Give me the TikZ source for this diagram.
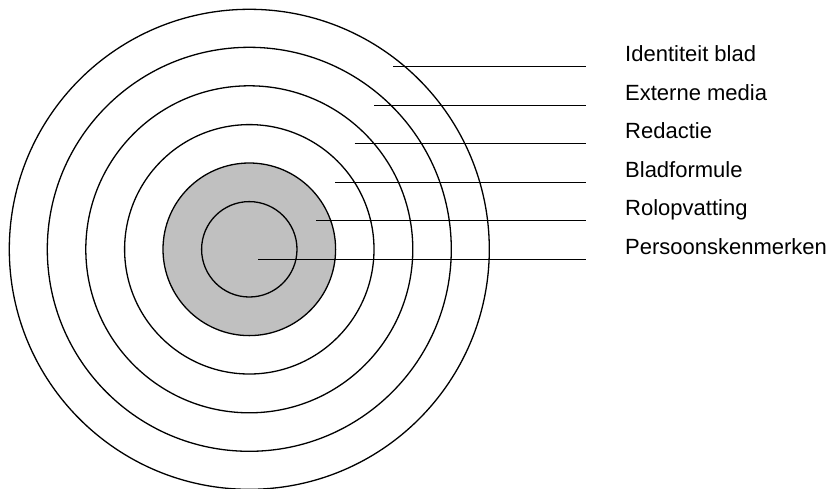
\documentclass[tikz,border=0pt]{standalone}
\usepackage{fontspec}
\setmainfont{Liberation Sans}
\definecolor{ringgray}{HTML}{C0C0C0}
\begin{document}
\begin{tikzpicture}[x=1pt,y=-1pt,
  ring/.style={draw=black,line width=1.3pt},
  leader/.style={draw=black,line width=1.2pt},
  lbl/.style={anchor=base west,inner sep=0pt,font=\fontsize{22}{26}\selectfont}]
\useasboundingbox (0,0) rectangle (832,488);
\coordinate (c) at (249.3,249.3);
\draw[ring] (c) circle[radius=240];
\draw[ring] (c) circle[radius=202];
\draw[ring] (c) circle[radius=163.5];
\draw[ring] (c) circle[radius=124.7];
\draw[ring,fill=ringgray] (c) circle[radius=86.3];
\draw[ring] (c) circle[radius=47.7];
% leader lines
\foreach \i/\xs/\yy/\txt in {
  1/393.3/66.5/Identiteit blad,
  2/374/105.5/Externe media,
  3/354.7/143.5/Redactie,
  4/335.3/182.5/Bladformule,
  5/316/220.5/Rolopvatting,
  6/258.3/259.5/Persoonskenmerken}{
  \coordinate (s\i) at (\xs,\yy);
  \coordinate (e\i) at (586,\yy);
  \node[lbl] (t\i) at (625,\yy-4.6) {\txt};
  \draw[leader] (s\i) -- (e\i);
}
\end{tikzpicture}
\end{document}
